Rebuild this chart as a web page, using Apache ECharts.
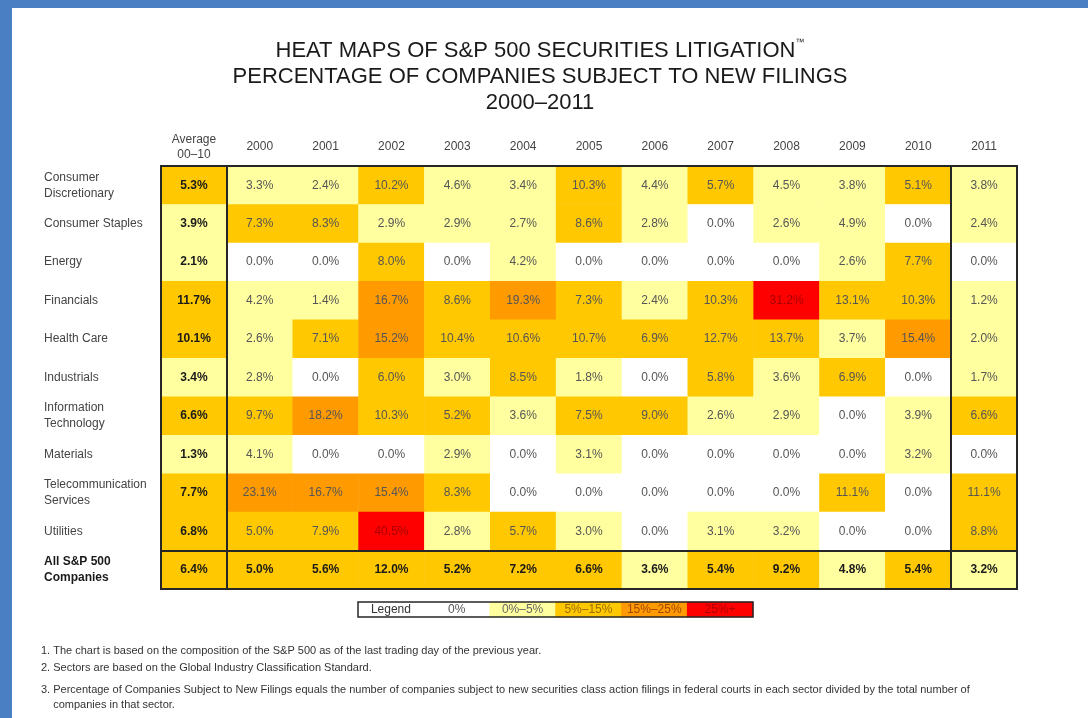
<!DOCTYPE html>
<html>
<head>
<meta charset="utf-8">
<script src="https://cdn.jsdelivr.net/npm/echarts@6/dist/echarts.min.js"></script>
<style>
  html, body { margin: 0; padding: 0; background: #fff; }
  #chart { position: absolute; left: 0; top: 0; width: 1088px; height: 718px; }
  .bar { position: absolute; background: #4a7fc3; z-index: 5; }
</style>
</head>
<body>
<div id="chart"></div>
<div class="bar" style="left:0;top:0;width:1088px;height:8px"></div>
<div class="bar" style="left:0;top:0;width:12px;height:718px"></div>
<script>
// ---- data ----
const sectors = ['Consumer\nDiscretionary', 'Consumer Staples', 'Energy', 'Financials', 'Health Care',
  'Industrials', 'Information\nTechnology', 'Materials', 'Telecommunication\nServices', 'Utilities',
  'All S&P 500\nCompanies'];
const columns = ['Average\n00–10', '2000', '2001', '2002', '2003', '2004', '2005', '2006', '2007', '2008', '2009', '2010', '2011'];
const consumerDiscretionary = [5.3, 3.3, 2.4, 10.2, 4.6, 3.4, 10.3, 4.4, 5.7, 4.5, 3.8, 5.1, 3.8];
const consumerStaples      = [3.9, 7.3, 8.3, 2.9, 2.9, 2.7, 8.6, 2.8, 0.0, 2.6, 4.9, 0.0, 2.4];
const energy               = [2.1, 0.0, 0.0, 8.0, 0.0, 4.2, 0.0, 0.0, 0.0, 0.0, 2.6, 7.7, 0.0];
const financials           = [11.7, 4.2, 1.4, 16.7, 8.6, 19.3, 7.3, 2.4, 10.3, 31.2, 13.1, 10.3, 1.2];
const healthCare           = [10.1, 2.6, 7.1, 15.2, 10.4, 10.6, 10.7, 6.9, 12.7, 13.7, 3.7, 15.4, 2.0];
const industrials          = [3.4, 2.8, 0.0, 6.0, 3.0, 8.5, 1.8, 0.0, 5.8, 3.6, 6.9, 0.0, 1.7];
const infoTech             = [6.6, 9.7, 18.2, 10.3, 5.2, 3.6, 7.5, 9.0, 2.6, 2.9, 0.0, 3.9, 6.6];
const materials            = [1.3, 4.1, 0.0, 0.0, 2.9, 0.0, 3.1, 0.0, 0.0, 0.0, 0.0, 3.2, 0.0];
const telecom              = [7.7, 23.1, 16.7, 15.4, 8.3, 0.0, 0.0, 0.0, 0.0, 0.0, 11.1, 0.0, 11.1];
const utilities            = [6.8, 5.0, 7.9, 40.5, 2.8, 5.7, 3.0, 0.0, 3.1, 3.2, 0.0, 0.0, 8.8];
const allCompanies         = [6.4, 5.0, 5.6, 12.0, 5.2, 7.2, 6.6, 3.6, 5.4, 9.2, 4.8, 5.4, 3.2];
const rows = [consumerDiscretionary, consumerStaples, energy, financials, healthCare, industrials,
  infoTech, materials, telecom, utilities, allCompanies];
const legendLabels = ['Legend', '0%', '0%–5%', '5%–15%', '15%–25%', '25%+'];
const legendColors = ['#ffffff', '#ffffff', '#ffffa0', '#ffc800', '#ff9a00', '#ff0000'];
const legendTextColors = ['#333333', '#555555', '#666666', '#9a6e00', '#a04800', '#b00000'];
const footnotes = [
  '1. The chart is based on the composition of the S&P 500 as of the last trading day of the previous year.',
  '2. Sectors are based on the Global Industry Classification Standard.',
  '3. Percentage of Companies Subject to New Filings equals the number of companies subject to new securities class action filings in federal courts in each sector divided by the total number of',
  '    companies in that sector.'
];

// ---- build ----
const heatData = [];
rows.forEach((r, yi) => {
  r.forEach((v, xi) => {
    const bold = xi === 0 || yi === rows.length - 1;
    heatData.push({
      value: [xi, yi, v],
      label: {
        fontWeight: bold ? 'bold' : 'normal',
        color: v >= 25 ? '#a80000' : (bold ? '#1a1a1a' : '#555555')
      }
    });
  });
});
const legendData = legendLabels.map((l, i) => ({
  value: [i, 0, i],
  itemStyle: { color: legendColors[i] },
  label: { color: legendTextColors[i] }
}));

const chart = echarts.init(document.getElementById('chart'));
const F = 'Liberation Sans, Arial, sans-serif';
const footStyle = { fontFamily: F, fontSize: 11, fontWeight: 'normal', color: '#333' };
chart.setOption({
  backgroundColor: '#ffffff',
  textStyle: { fontFamily: F },
  title: [
    {
      text: 'HEAT MAPS OF S&P 500 SECURITIES LITIGATION{tm|™}\nPERCENTAGE OF COMPANIES SUBJECT TO NEW FILINGS\n2000–2011',
      left: 535, top: 33, textAlign: 'center',
      textStyle: {
        fontFamily: F, fontSize: 22, fontWeight: 'normal', color: '#1a1a1a', lineHeight: 26,
        rich: { tm: { fontSize: 9, verticalAlign: 'top', padding: [0, 0, 14, 0], color: '#1a1a1a' } }
      }
    },
    { text: footnotes[0], left: 36, top: 640, textStyle: footStyle },
    { text: footnotes[1], left: 36, top: 657, textStyle: footStyle },
    { text: footnotes[2], left: 36, top: 679, textStyle: footStyle },
    { text: footnotes[3], left: 36, top: 694, textStyle: footStyle }
  ],
  grid: [
    { left: 161, top: 166, width: 856, height: 423, show: true, borderColor: '#262626', borderWidth: 2, backgroundColor: 'transparent', z: 3 },
    { left: 358, top: 602, width: 395, height: 15, show: true, borderColor: '#262626', borderWidth: 1.5, backgroundColor: 'transparent', z: 3 }
  ],
  xAxis: [
    {
      type: 'category', data: columns, position: 'top', gridIndex: 0,
      axisLine: { show: false }, axisTick: { show: false },
      axisLabel: { color: '#444', fontSize: 12, lineHeight: 15, margin: 19, verticalAlign: 'middle', interval: 0 },
      splitLine: { show: true, interval: (i) => i === 1 || i === 12, lineStyle: { color: '#262626', width: 2 } },
      z: 4
    },
    {
      type: 'category', data: legendLabels, gridIndex: 1,
      axisLine: { show: false }, axisTick: { show: false }, axisLabel: { show: false }, splitLine: { show: false }
    }
  ],
  yAxis: [
    {
      type: 'category', data: sectors, inverse: true, gridIndex: 0,
      axisLine: { show: false }, axisTick: { show: false },
      axisLabel: {
        color: '#444', fontSize: 12, lineHeight: 16, align: 'left', margin: 117, interval: 0,
        formatter: (v) => v.startsWith('All') ? v.split('\n').map(s => '{b|' + s + '}').join('\n') : v,
        rich: { b: { fontWeight: 'bold', color: '#1a1a1a', fontSize: 12, lineHeight: 16 } }
      },
      splitLine: { show: false },
      z: 4
    },
    {
      type: 'category', data: ['legend'], gridIndex: 1,
      axisLine: { show: false }, axisTick: { show: false }, axisLabel: { show: false }, splitLine: { show: false }
    }
  ],
  visualMap: {
    type: 'piecewise', show: false, seriesIndex: 0, dimension: 2,
    pieces: [
      { value: 0, color: '#ffffff' },
      { gt: 0, lt: 5, color: '#ffffa0' },
      { gte: 5, lt: 15, color: '#ffc800' },
      { gte: 15, lt: 25, color: '#ff9a00' },
      { gte: 25, color: '#ff0000' }
    ]
  },
  series: [
    {
      type: 'heatmap', xAxisIndex: 0, yAxisIndex: 0, data: heatData,
      itemStyle: { borderWidth: 0 },
      label: { show: true, fontSize: 12, fontFamily: F, formatter: (p) => p.value[2].toFixed(1) + '%' },
      emphasis: { disabled: true }
    },
    {
      type: 'heatmap', xAxisIndex: 1, yAxisIndex: 1, data: legendData,
      itemStyle: { borderWidth: 0 },
      label: { show: true, fontSize: 12, fontFamily: F, formatter: (p) => legendLabels[p.value[0]] },
      emphasis: { disabled: true }
    }
  ]
});

// separator above the "All S&P 500" row, placed from the y-axis scale
const lastIdx = sectors.length - 1;
const yA = chart.convertToPixel({ yAxisIndex: 0 }, lastIdx - 1);
const yB = chart.convertToPixel({ yAxisIndex: 0 }, lastIdx);
const ySep = Math.round((yA + yB) / 2);
const xL = chart.convertToPixel({ xAxisIndex: 0 }, 0);
const xR = chart.convertToPixel({ xAxisIndex: 0 }, columns.length - 1);
const half = (xR - xL) / (columns.length - 1) / 2;
chart.setOption({
  graphic: [{
    type: 'line', z: 10,
    shape: { x1: xL - half, y1: ySep, x2: xR + half, y2: ySep },
    style: { stroke: '#262626', lineWidth: 2 }
  }]
});
</script>
</body>
</html>
